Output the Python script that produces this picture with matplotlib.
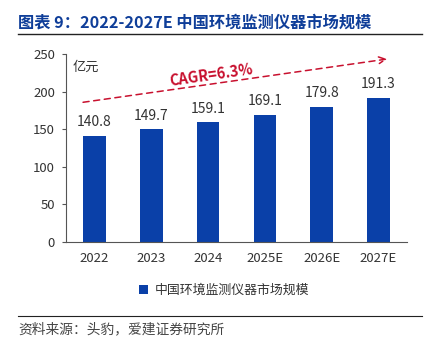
import numpy as np
import matplotlib
matplotlib.use('Agg')
import matplotlib.pyplot as plt

plt.rcParams['font.family'] = ['Noto Sans CJK SC', 'DejaVu Sans']

years = ['2022', '2023', '2024', '2025E', '2026E', '2027E']
market_size = [140.8, 149.7, 159.1, 169.1, 179.8, 191.3]
series_name = '中国环境监测仪器市场规模'
title = '图表 9：2022-2027E 中国环境监测仪器市场规模'
source = '资料来源：头豹，爱建证券研究所'
cagr_text = 'CAGR=6.3%'
unit = '亿元'

BAR_COLOR = '#0A40A8'
TITLE_COLOR = '#0F3E99'
RED = '#C8102E'
TEXT_COLOR = '#333333'

fig = plt.figure(figsize=(4.28, 3.44), dpi=100)
ax = fig.add_axes([0.1542, 0.2965, 0.7968, 0.5465])

x = np.arange(len(years))
ax.bar(x, market_size, width=0.40, color=BAR_COLOR, label=series_name, zorder=2)
for xi, v in zip(x, market_size):
    ax.text(xi, v + 9, f'{v:.1f}', ha='center', va='bottom', fontsize=10, color=TEXT_COLOR)

ax.set_xlim(-0.5, 5.5)
ax.set_ylim(0, 250)
ax.set_yticks(range(0, 251, 50))
ax.set_xticks(x)
ax.set_xticklabels(years)
ax.tick_params(axis='y', length=3, width=0.8, colors='#555555', labelcolor=TEXT_COLOR, labelsize=9.5, pad=5)
ax.tick_params(axis='x', length=0, labelcolor=TEXT_COLOR, labelsize=9.5, pad=7)
for s in ['top', 'right']:
    ax.spines[s].set_visible(False)
for s in ['left', 'bottom']:
    ax.spines[s].set_color('#555555')
    ax.spines[s].set_linewidth(0.8)

ax.text(0.02, 0.93, unit, transform=ax.transAxes, fontsize=9.5, color=TEXT_COLOR, va='center')

# CAGR dashed arrow
x0, y0 = x[0] - 0.2, market_size[0] + 45
x1, y1 = x[-1] + 0.15, market_size[-1] + 52
ax.annotate('', xy=(x1, y1), xytext=(x0, y0),
            arrowprops=dict(arrowstyle='->', color=RED, lw=1.1, linestyle=(0, (4, 3)),
                            mutation_scale=12, shrinkA=0, shrinkB=0))
ax.text(2.05, 222, cagr_text, color=RED, fontsize=10.5, fontweight='bold', fontstyle='italic',
        rotation=8.3, ha='center', va='center', rotation_mode='anchor')

leg = ax.legend(loc='upper left', bbox_to_anchor=(0.18, -0.16), frameon=False,
                fontsize=9.3, handlelength=0.7, handleheight=0.7, handletextpad=0.5)
for t in leg.get_texts():
    t.set_color(TEXT_COLOR)

fig.text(18 / 428, 1 - 23 / 344, title, fontsize=11.7, fontweight='bold', color=TITLE_COLOR,
         va='center', ha='left')
fig.add_artist(plt.Line2D([18 / 428, 422 / 428], [1 - 33.5 / 344] * 2, color='#222222', lw=1.0))
fig.add_artist(plt.Line2D([18 / 428, 422 / 428], [1 - 316 / 344] * 2, color='#222222', lw=0.8))
fig.text(18 / 428, 1 - 329 / 344, source, fontsize=9.9, color='#444444', va='center', ha='left')

fig.savefig('out.png', dpi=100)
